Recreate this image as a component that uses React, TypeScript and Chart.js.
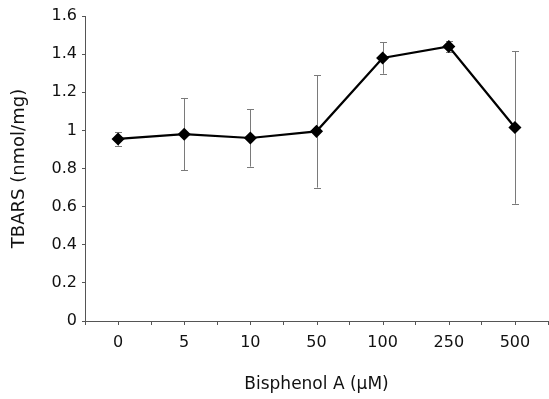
import React, { useEffect, useRef } from "react";
import { Chart, registerables } from "chart.js";

Chart.register(...registerables);

const categories = ["0", "5", "10", "50", "100", "250", "500"];
const tbarsMean = [0.955, 0.98, 0.96, 0.995, 1.38, 1.44, 1.015];
const tbarsError = [0.035, 0.19, 0.15, 0.295, 0.083, 0.03, 0.4];
const yTicksMin = 0;
const yTicksMax = 1.6;
const yTickStep = 0.2;

const errorBarPlugin = {
  id: "errorBars",
  beforeDatasetsDraw(chart: any) {
    const { ctx, scales } = chart;
    const x = scales.x;
    const y = scales.y;
    ctx.save();
    ctx.strokeStyle = "#7a7a7a";
    ctx.lineWidth = 1;
    tbarsMean.forEach((m, i) => {
      const px = Math.round(x.getPixelForValue(i)) + 0.5;
      const top = y.getPixelForValue(m + tbarsError[i]);
      const bot = y.getPixelForValue(m - tbarsError[i]);
      ctx.beginPath();
      ctx.moveTo(px, top);
      ctx.lineTo(px, bot);
      ctx.moveTo(px - 3.5, Math.round(top) + 0.5);
      ctx.lineTo(px + 3.5, Math.round(top) + 0.5);
      ctx.moveTo(px - 3.5, Math.round(bot) + 0.5);
      ctx.lineTo(px + 3.5, Math.round(bot) + 0.5);
      ctx.stroke();
    });
    ctx.restore();
  },
  afterDraw(chart: any) {
    const { ctx, scales } = chart;
    const x = scales.x;
    const yb = Math.round(chart.chartArea.bottom);
    ctx.save();
    ctx.strokeStyle = "#555";
    ctx.lineWidth = 1;
    categories.forEach((_, i) => {
      const px = Math.round(x.getPixelForValue(i)) + 0.5;
      ctx.beginPath();
      ctx.moveTo(px, yb);
      ctx.lineTo(px, yb + 4);
      ctx.stroke();
    });
    ctx.restore();
  },
};

export default function App() {
  const ref = useRef<HTMLCanvasElement | null>(null);
  useEffect(() => {
    if (!ref.current) return;
    const chart = new Chart(ref.current, {
      type: "line",
      data: {
        labels: categories,
        datasets: [
          {
            data: tbarsMean,
            borderColor: "#000",
            backgroundColor: "#000",
            borderWidth: 2.2,
            pointStyle: "rectRot",
            pointRadius: 5,
            pointBackgroundColor: "#000",
            pointBorderColor: "#000",
            tension: 0,
          },
        ],
      },
      options: {
        animation: false,
        responsive: false,
        layout: {
          autoPadding: false,
          padding: { left: 0, right: 1, top: 16, bottom: 0 },
        },
        plugins: { legend: { display: false }, tooltip: { enabled: false } },
        scales: {
          x: {
            type: "category",
            offset: true,
            afterFit: (s: any) => {
              s.height = 78;
              s.paddingLeft = 0;
              s.paddingRight = 0;
            },
            grid: {
              offset: true,
              drawOnChartArea: false,
              tickLength: 4,
              color: "#555",
            },
            border: { color: "#555", width: 1 },
            ticks: {
              color: "#111",
              padding: 8,
              font: { family: "DejaVu Sans", size: 16 },
              maxRotation: 0,
            },
            title: {
              display: true,
              text: "Bisphenol A (μM)",
              color: "#111",
              font: { family: "DejaVu Sans", size: 17 },
              padding: { top: 4, bottom: 4 },
            },
          },
          y: {
            min: yTicksMin,
            max: yTicksMax,
            afterFit: (s: any) => {
              s.width = 85;
            },
            grid: {
              drawOnChartArea: false,
              tickLength: 3,
              color: "#555",
            },
            border: { color: "#555", width: 1 },
            ticks: {
              stepSize: yTickStep,
              color: "#111",
              padding: 5,
              font: { family: "DejaVu Sans", size: 16 },
              callback: (v: any) => String(+Number(v).toFixed(1)),
            },
            title: {
              display: true,
              text: "TBARS (nmol/mg)",
              color: "#111",
              font: { family: "DejaVu Sans", size: 18 },
              padding: { top: 9, bottom: 0 },
            },
          },
        },
      },
      plugins: [errorBarPlugin],
    });
    return () => chart.destroy();
  }, []);
  return (
    <div
      style={{
        position: "absolute",
        left: 0,
        top: 0,
        width: 549,
        height: 399,
        background: "#fff",
        overflow: "hidden",
      }}
    >
      <canvas
        ref={ref}
        width={549}
        height={399}
        style={{ display: "block", width: 549, height: 399 }}
      />
    </div>
  );
}
